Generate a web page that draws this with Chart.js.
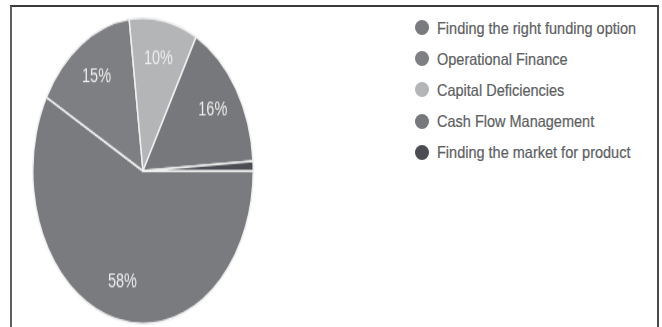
<!DOCTYPE html>
<html lang="en">
<head>
  <meta charset="UTF-8">
  <title>Financial challenges</title>
  <script src="https://cdn.jsdelivr.net/npm/chart.js"></script>
  <style>
    body {
      margin: 0;
      width: 662px;
      height: 327px;
      overflow: hidden;
      background: #ffffff;
      font-family: "Liberation Sans", Arial, sans-serif;
    }
    #frame {
      position: absolute;
      left: 10px;
      top: 5px;
      width: 645px;
      height: 340px;
      border-top: 2px solid #3a3a3a;
      border-left: 2px solid #5e5e5e;
      border-right: 2px solid #4a4a4a;
    }
    #pieBox {
      position: absolute;
      left: 32px;
      top: 17px;
      width: 222px;
      height: 222px;
      transform: scaleY(1.386);
      transform-origin: 0 0;
    }
    #legend {
      position: absolute;
      left: 415px;
      top: 12px;
      margin: 0;
      padding: 0;
      list-style: none;
    }
    #legend li {
      display: flex;
      align-items: center;
      height: 31.2px;
    }
    .dot {
      width: 14px;
      height: 15px;
      border-radius: 50%;
      margin-right: 8px;
      flex: none;
    }
    .name {
      font-size: 14.5px;
      color: #5e5f63;
      white-space: nowrap;
      display: inline-block;
      transform: scaleY(1.15);
      -webkit-text-stroke: 0.2px #5e5f63;
    }
  </style>
</head>
<body>
  <div id="frame"></div>
  <div id="pieBox"><canvas id="pie"></canvas></div>
  <ul id="legend"></ul>

  <script>
    // categorias e percentagens
    const categories = [
      'Finding the right funding option',
      'Operational Finance',
      'Capital Deficiencies',
      'Cash Flow Management',
      'Finding the market for product'
    ];
    const shares = [58, 15, 10, 16, 1];
    const sliceColors = ['#7a7b7f', '#7e7f83', '#b4b5b7', '#77787c', '#4c4d52'];

    // rótulos de percentagem dentro das fatias
    const sliceLabels = {
      id: 'sliceLabels',
      afterDatasetsDraw(chart) {
        const ctx = chart.ctx;
        const meta = chart.getDatasetMeta(0);
        ctx.save();
        ctx.font = '14.5px "Liberation Sans", Arial, sans-serif';
        ctx.fillStyle = '#ededed';
        ctx.textAlign = 'center';
        ctx.textBaseline = 'middle';
        meta.data.forEach((arc, i) => {
          const v = chart.data.datasets[0].data[i];
          if (v < 5) return;
          const p = arc.getProps(['x', 'y', 'startAngle', 'endAngle', 'outerRadius'], true);
          const mid = (p.startAngle + p.endAngle) / 2;
          const r = p.outerRadius * 0.75;
          ctx.fillText(v + '%', p.x + Math.cos(mid) * r, p.y + Math.sin(mid) * r);
        });
        ctx.restore();
      }
    };

    // legenda em HTML gerada a partir do gráfico
    const htmlLegend = {
      id: 'htmlLegend',
      afterUpdate(chart) {
        const ul = document.getElementById('legend');
        ul.innerHTML = '';
        const items = chart.options.plugins.legend.labels.generateLabels(chart);
        items.forEach(item => {
          const li = document.createElement('li');
          const dot = document.createElement('span');
          dot.className = 'dot';
          dot.style.background = item.fillStyle;
          const txt = document.createElement('span');
          txt.className = 'name';
          txt.textContent = item.text;
          li.appendChild(dot);
          li.appendChild(txt);
          ul.appendChild(li);
        });
      }
    };

    const pieChart = new Chart(document.getElementById('pie'), {
      type: 'pie',
      data: {
        labels: categories,
        datasets: [{
          data: shares,
          backgroundColor: sliceColors,
          borderColor: '#f0f0f0',
          borderWidth: 1.5
        }]
      },
      options: {
        responsive: true,
        maintainAspectRatio: false,
        animation: false,
        rotation: 90,
        layout: { padding: 0 },
        plugins: {
          legend: { display: false },
          tooltip: { enabled: false }
        }
      },
      plugins: [sliceLabels, htmlLegend]
    });
  </script>
</body>
</html>
